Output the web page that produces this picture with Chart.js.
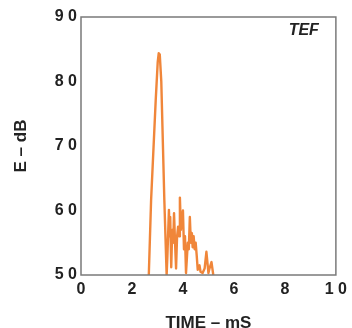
<!DOCTYPE html>
<html>
<head>
<meta charset="utf-8">
<script src="https://cdn.jsdelivr.net/npm/chart.js@4.4.0/dist/chart.umd.min.js"></script>
<style>
  html, body { margin: 0; padding: 0; background: #fff; }
  #wrap { width: 352px; height: 328px; }
</style>
</head>
<body>
<div id="wrap"><canvas id="tefChart" width="352" height="328"></canvas></div>
<script>
// Energy vs time trace
const timeMs = [2.66, 2.75, 2.93, 3.01, 3.05, 3.09, 3.15, 3.27, 3.36,
    3.39, 3.45, 3.48, 3.5, 3.54, 3.58, 3.62, 3.65, 3.69, 3.73,
    3.77, 3.81, 3.85, 3.88, 3.92, 3.96, 4.0, 4.04, 4.08, 4.12,
    4.19, 4.23, 4.27, 4.31, 4.35, 4.38, 4.42, 4.46, 4.5, 4.54,
    4.58, 4.65, 4.69, 4.77, 4.85, 4.92, 5.0, 5.04, 5.12, 5.19];
const levelDb = [50, 61.6, 77, 83, 84.4, 84.2, 80, 61.6, 50,
    53, 60.1, 56, 59, 51.2, 57, 55, 59.6, 55, 51,
    56, 57.5, 56, 62, 57, 59, 60, 54, 56, 50.3,
    55, 54, 59, 55, 56.5, 54.3, 56, 54, 55, 53,
    50.8, 51.5, 50.5, 50.3, 51, 53.6, 50.3, 51, 52, 50];
const xTicks = [0, 2, 4, 6, 8, 10];
const yTicks = [50, 60, 70, 80, 90];

const traceColor = '#f0863a';
const frameColor = '#7a7a7a';
const textColor = '#222';
const fontFamily = '"Liberation Sans", Arial, sans-serif';

// spread digits apart like the original lettering
function spaced(v) {
    return String(v).split('').join(' ');
}

const framePlugin = {
    id: 'frame',
    afterDraw(chart) {
        const { ctx, chartArea: a } = chart;
        ctx.save();
        ctx.strokeStyle = frameColor;
        ctx.lineWidth = 1.5;
        ctx.strokeRect(a.left, a.top, a.right - a.left, a.bottom - a.top);
        ctx.fillStyle = textColor;
        ctx.font = 'italic bold 16px ' + fontFamily;
        ctx.textAlign = 'right';
        ctx.textBaseline = 'middle';
        ctx.fillText('TEF', a.right - 17, a.top + 14);
        ctx.restore();
    }
};

const ctx = document.getElementById('tefChart');
new Chart(ctx, {
    type: 'line',
    data: {
        datasets: [{
            data: timeMs.map((t, i) => ({ x: t, y: levelDb[i] })),
            borderColor: traceColor,
            borderWidth: 2.4,
            borderJoinStyle: 'round',
            pointRadius: 0,
            tension: 0,
            fill: false
        }]
    },
    options: {
        responsive: false,
        animation: false,
        layout: { padding: { top: 17, right: 11, left: 0, bottom: 0 } },
        plugins: {
            legend: { display: false },
            tooltip: { enabled: false }
        },
        scales: {
            x: {
                type: 'linear',
                min: 0,
                max: 10,
                afterBuildTicks: (s) => { s.ticks = xTicks.map(v => ({ value: v })); },
                afterFit: (s) => { s.height = 53; },
                grid: { display: false, drawTicks: false },
                border: { display: false },
                ticks: {
                    color: textColor,
                    padding: 5,
                    maxRotation: 0,
                    font: { family: fontFamily, size: 16, weight: 'bold' },
                    callback: (v) => spaced(v)
                },
                title: {
                    display: true,
                    text: 'TIME – mS',
                    color: textColor,
                    padding: { top: 0, bottom: 0 },
                    font: { family: fontFamily, size: 17, weight: 'bold', lineHeight: 0.6 }
                }
            },
            y: {
                min: 50,
                max: 90,
                afterBuildTicks: (s) => { s.ticks = yTicks.map(v => ({ value: v })); },
                afterFit: (s) => { s.width = 81; },
                grid: { display: false, drawTicks: false },
                border: { display: false },
                ticks: {
                    color: textColor,
                    padding: 4,
                    font: { family: fontFamily, size: 16, weight: 'bold' },
                    callback: (v) => spaced(v)
                },
                title: {
                    display: true,
                    text: 'E – dB',
                    color: textColor,
                    padding: { top: 11, bottom: 0 },
                    font: { family: fontFamily, size: 17, weight: 'bold' }
                }
            }
        }
    },
    plugins: [framePlugin]
});
</script>
</body>
</html>
